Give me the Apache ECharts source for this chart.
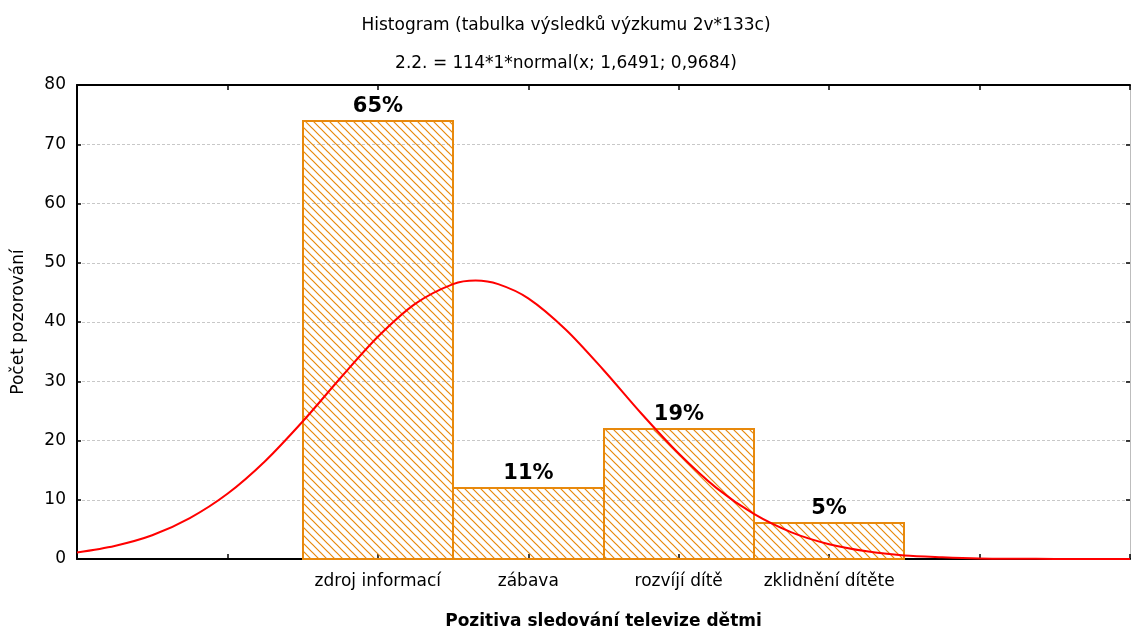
<!DOCTYPE html>
<html>
<head>
<meta charset="utf-8">
<script src="https://cdn.jsdelivr.net/npm/echarts@6/dist/echarts.min.js"></script>
<style>
html,body{margin:0;padding:0;background:#fff;}
#chart{width:1132px;height:630px;}
</style>
</head>
<body>
<div id="chart"></div>
<script>
// ---- data ----
var categories = ['zdroj informací', 'zábava', 'rozvíjí dítě', 'zklidnění dítěte'];
var categoryX = [1, 2, 3, 4];
var counts = [74, 12, 22, 6];
var percentLabels = ['65%', '11%', '19%', '5%'];
var curveX = [-1, -0.75, -0.5, -0.25, 0, 0.25, 0.5, 0.75, 1, 1.25, 1.5, 1.65, 1.8, 2, 2.25, 2.5, 2.75, 3, 3.25, 3.5, 3.75, 4, 4.25, 4.5, 4.75, 5, 5.25, 5.5, 5.75, 6];
var curveY = [1.1, 2.2, 4.0, 6.9, 11.0, 16.5, 23.2, 30.5, 37.5, 43.1, 46.4, 47.0, 46.4, 44.0, 38.7, 31.9, 24.6, 17.8, 12.0, 7.6, 4.5, 2.5, 1.3, 0.6, 0.3, 0.1, 0.04, 0.02, 0.0, 0.0];
var titleText = 'Histogram (tabulka výsledků výzkumu 2v*133c)';
var subtitleText = '2.2. = 114*1*normal(x; 1,6491; 0,9684)';
var xAxisName = 'Pozitiva sledování televize dětmi';
var yAxisName = 'Počet pozorování';

// ---- hatch pattern ----
var ORANGE = '#E8890C';
function makeHatch() {
  var s = 8;
  var c = document.createElement('canvas');
  c.width = s; c.height = s;
  var g = c.getContext('2d');
  g.strokeStyle = ORANGE;
  g.lineWidth = 1.2;
  g.beginPath();
  g.moveTo(-1, -1); g.lineTo(s + 1, s + 1);
  g.moveTo(-1, s - 1); g.lineTo(1, s + 1);
  g.moveTo(s - 1, -1); g.lineTo(s + 1, 1);
  g.stroke();
  return c;
}
var hatch = makeHatch();

var barData = categoryX.map(function (x, i) { return [x, counts[i], i]; });
var curveData = curveX.map(function (x, i) { return [x, curveY[i]]; });

var FONT = '"DejaVu Sans", sans-serif';

var chart = echarts.init(document.getElementById('chart'));
chart.setOption({
  animation: false,
  backgroundColor: '#fff',
  title: [
    { text: titleText, left: 'center', top: 12, textStyle: { fontSize: 17, fontWeight: 'normal', color: '#000', fontFamily: FONT } },
    { text: subtitleText, left: 'center', top: 50, textStyle: { fontSize: 17, fontWeight: 'normal', color: '#000', fontFamily: FONT } }
  ],
  grid: { left: 77, right: 2, top: 85, bottom: 71, containLabel: false, outerBoundsMode: 'none' },
  xAxis: [
    {
      type: 'value', min: -1, max: 6, interval: 1, position: 'bottom',
      name: xAxisName, nameLocation: 'middle', nameGap: 54,
      nameTextStyle: { fontSize: 17, fontWeight: 'bold', color: '#000', fontFamily: FONT },
      axisLine: { show: true, onZero: false, lineStyle: { color: '#000', width: 2 } },
      axisTick: { show: true, inside: true, length: 5, lineStyle: { color: '#000', width: 1.5 } },
      axisLabel: {
        show: true, margin: 14, fontSize: 17, color: '#000', fontFamily: FONT,
        formatter: function (v) { var i = categoryX.indexOf(v); return i >= 0 ? categories[i] : ''; }
      },
      splitLine: { show: false }
    },
    {
      type: 'value', min: -1, max: 6, interval: 1, position: 'top',
      axisLine: { show: true, onZero: false, lineStyle: { color: '#000', width: 2 } },
      axisTick: { show: true, inside: true, length: 5, lineStyle: { color: '#000', width: 1.5 } },
      axisLabel: { show: false },
      splitLine: { show: false }
    }
  ],
  yAxis: [
    {
      type: 'value', min: 0, max: 80, interval: 10, position: 'left',
      name: yAxisName, nameLocation: 'middle', nameGap: 50, nameRotate: 90,
      nameTextStyle: { fontSize: 17, color: '#000', fontFamily: FONT },
      axisLine: { show: true, onZero: false, lineStyle: { color: '#000', width: 2 } },
      axisTick: { show: true, inside: true, length: 4, lineStyle: { color: '#000', width: 1.5 } },
      axisLabel: { fontSize: 17, color: '#000', margin: 11, fontFamily: FONT },
      splitLine: { show: true, lineStyle: { color: '#c8c8c8', type: [3, 2], width: 1 } }
    },
    {
      type: 'value', min: 0, max: 80, interval: 10, position: 'right',
      axisLine: { show: true, onZero: false, lineStyle: { color: '#bdbdbd', width: 1 } },
      axisTick: { show: true, inside: true, length: 4, lineStyle: { color: '#000', width: 1.5 } },
      axisLabel: { show: false },
      splitLine: { show: false }
    }
  ],
  series: [
    {
      type: 'custom',
      xAxisIndex: 0, yAxisIndex: 0,
      data: barData,
      z: 2,
      renderItem: function (params, api) {
        var x = api.value(0), y = api.value(1), idx = api.value(2);
        var p0 = api.coord([x - 0.5, y]);
        var p1 = api.coord([x + 0.5, 0]);
        var left = Math.round(p0[0]), right = Math.round(p1[0]);
        var top = Math.round(p0[1]), bottom = Math.round(p1[1]);
        return {
          type: 'group',
          children: [
            {
              type: 'rect',
              shape: { x: left, y: top, width: right - left, height: bottom - top },
              style: { fill: { image: hatch, repeat: 'repeat' }, stroke: ORANGE, lineWidth: 2 }
            },
            {
              type: 'text',
              style: {
                text: percentLabels[idx], x: (left + right) / 2, y: top - 4,
                align: 'center', verticalAlign: 'bottom',
                font: 'bold 21px ' + FONT, fill: '#000'
              }
            }
          ]
        };
      }
    },
    {
      type: 'line',
      xAxisIndex: 0, yAxisIndex: 0,
      data: curveData,
      smooth: 0.3,
      symbol: 'none',
      z: 5,
      lineStyle: { color: '#ff0000', width: 2 }
    }
  ]
});
</script>
</body>
</html>
